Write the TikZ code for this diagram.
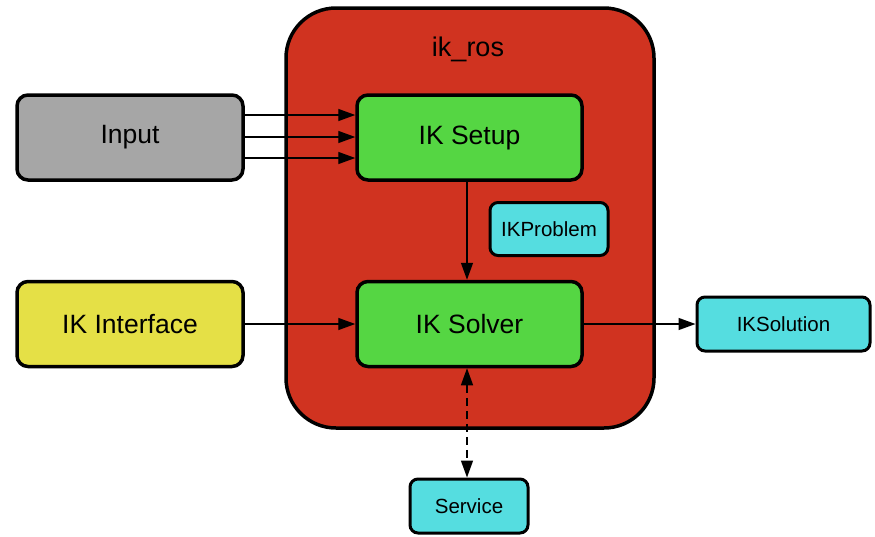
\documentclass[tikz,border=0pt]{standalone}
\usepackage{fontspec}
\setmainfont{Liberation Sans}
\usetikzlibrary{arrows.meta}
\definecolor{redbg}{HTML}{D03320}
\definecolor{grayb}{HTML}{A6A6A6}
\definecolor{greenb}{HTML}{55D643}
\definecolor{yellowb}{HTML}{E5E046}
\definecolor{cyanb}{HTML}{55DDE0}
\begin{document}
\begin{tikzpicture}[x=1pt,y=-1pt,
  box/.style={draw=black,line width=3.5pt,rounded corners=11pt,inner sep=0pt,font=\fontsize{26.5}{30}\selectfont},
  bigbox/.style={box,minimum width=226pt,minimum height=85pt},
  smallbox/.style={box,line width=3pt,rounded corners=8pt,minimum height=53pt,font=\fontsize{20.5}{24}\selectfont},
  tip/.style={Triangle[length=17pt,width=12pt]},
  conn/.style={line width=1.4pt,-{Triangle[length=17pt,width=12pt]}}]
\useasboundingbox (0,0) rectangle (875,536);
\node[draw=black,line width=3.5pt,fill=redbg,rounded corners=50pt,minimum width=368pt,minimum height=420pt,inner sep=0pt] (ros) at (470,218) {};
\node[font=\fontsize{27}{30}\selectfont] (roslabel) at (468,49) {ik\_ros};
\node[bigbox,fill=grayb] (input) at (130,137.5) {Input};
\node[bigbox,fill=greenb,minimum width=225pt] (setup) at (469.5,137.5) {IK Setup};
\node[smallbox,fill=cyanb,minimum width=118pt] (problem) at (549,229) {IKProblem};
\node[bigbox,fill=yellowb] (iface) at (130,324) {IK Interface};
\node[bigbox,fill=greenb,minimum width=225pt] (solver) at (469.5,324) {IK Solver};
\node[smallbox,fill=cyanb,minimum width=173pt,minimum height=54pt] (solution) at (783.5,324) {IKSolution};
\node[smallbox,fill=cyanb,minimum width=118pt,minimum height=54pt] (service) at (469,506) {Service};
\draw[conn] (input.east |- 0,115) -- (setup.west |- 0,115);
\draw[conn] (input.east |- 0,137) -- (setup.west |- 0,137);
\draw[conn] (input.east |- 0,158) -- (setup.west |- 0,158);
\draw[conn] (setup.south -| 467,0) -- (solver.north -| 467,0);
\draw[conn] (iface.east) -- (solver.west);
\draw[conn] (solver.east) -- (solution.west);
\draw[line width=1.4pt,dash pattern=on 8pt off 5pt,{Triangle[length=17pt,width=12pt]}-{Triangle[length=17pt,width=12pt]}] (solver.south -| 467,0) -- (service.north -| 467,0);
\end{tikzpicture}
\end{document}
